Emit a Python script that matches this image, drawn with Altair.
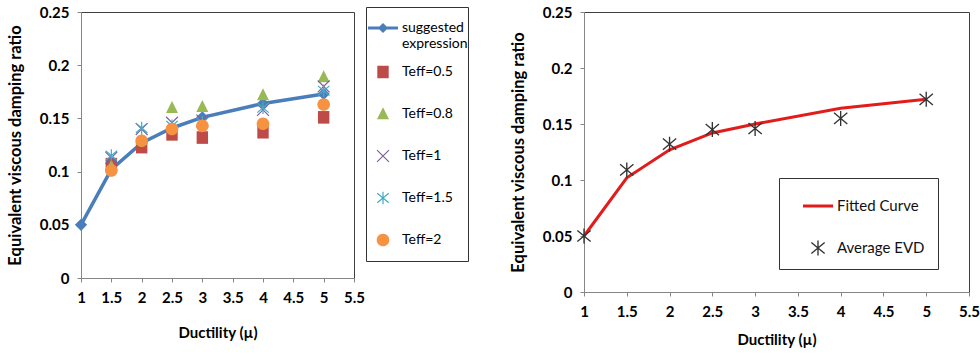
import altair as alt
import pandas as pd
import numpy as np

# ---------------- data ----------------
mu = [1, 1.5, 2, 2.5, 3, 4, 5]
suggested = [0.05, 0.102, 0.127, 0.141, 0.151, 0.164, 0.173]

mu_t = [1.5, 2, 2.5, 3, 4, 5]
teff_05 = [0.107, 0.123, 0.135, 0.132, 0.137, 0.151]
teff_08 = [0.105, 0.130, 0.160, 0.161, 0.172, 0.189]
teff_1 = [0.113, 0.140, 0.146, 0.148, 0.158, 0.180]
teff_15 = [0.115, 0.141, 0.143, 0.146, 0.160, 0.176]
teff_2 = [0.101, 0.129, 0.140, 0.143, 0.145, 0.163]

fitted = [0.05, 0.102, 0.127, 0.142, 0.150, 0.164, 0.172]
average_evd = [0.05, 0.109, 0.132, 0.145, 0.146, 0.155, 0.172]

x_ticks = [1, 1.5, 2, 2.5, 3, 3.5, 4, 4.5, 5, 5.5]
y_ticks = [0, 0.05, 0.1, 0.15, 0.2, 0.25]

left_series = ["suggested expression", "Teff=0.5", "Teff=0.8", "Teff=1", "Teff=1.5", "Teff=2"]
right_series = ["Fitted Curve", "Average EVD"]

# ---------------- symbol paths (style) ----------------
def bar(r, t, deg):
    a = np.deg2rad(deg)
    c, s = np.cos(a), np.sin(a)
    pts = [(-t, -r), (t, -r), (t, r), (-t, r)]
    rp = [(x * c - y * s, x * s + y * c) for x, y in pts]
    return "M" + "L".join(f"{x:.3f},{y:.3f}" for x, y in rp) + "Z"

line_diamond = "M-1,-0.1L1,-0.1L1,0.1L-1,0.1Z M0,-0.34L0.34,0L0,0.34L-0.34,0Z"
square = "M-0.38,-0.42L0.38,-0.42L0.38,0.42L-0.38,0.42Z"
triangle = "M0,-0.45L0.4,0.35L-0.4,0.35Z"
xmark = bar(0.56, 0.04, 45) + " " + bar(0.56, 0.04, -45)
asterisk_s = bar(0.42, 0.04, 0) + " " + bar(0.5, 0.04, 50) + " " + bar(0.5, 0.04, -50)
circle = "M-0.42,0A0.42,0.42,0,1,0,0.42,0A0.42,0.42,0,1,0,-0.42,0Z"
red_line = "M-1,-0.1L1,-0.1L1,0.1L-1,0.1Z"
asterisk_l = bar(0.5, 0.045, 0) + " " + bar(0.58, 0.045, 50) + " " + bar(0.58, 0.045, -50)

left_colors = ["#4A7EBB", "#BE4B48", "#98B954", "#7D60A0", "#46AAC5", "#F69240"]
left_shapes = [line_diamond, square, triangle, xmark, asterisk_s, circle]

FONT = "Lato"

# ---------------- tables ----------------
df_sug = pd.DataFrame({"mu": mu, "evd": suggested})
rows = []
for name, vals in zip(left_series[1:], [teff_05, teff_08, teff_1, teff_15, teff_2]):
    for m, v in zip(mu_t, vals):
        rows.append({"mu": m, "evd": v, "lseries": name})
df_teff = pd.DataFrame(rows)

df_fit = pd.DataFrame({"mu": mu, "evd": fitted})
df_avg = pd.DataFrame({"mu": mu, "evd": average_evd, "rseries": "Average EVD"})


def make_x(title_pad):
    return alt.X("mu:Q", scale=alt.Scale(domain=[1, 5.5], nice=False, zero=False),
                 axis=alt.Axis(values=x_ticks, format="~g", title="Ductility (\u00b5)",
                               labelOverlap=False, labelFlush=False,
                               titlePadding=title_pad))


Y = alt.Y("evd:Q", scale=alt.Scale(domain=[0, 0.25], nice=False),
          axis=alt.Axis(values=y_ticks, format="~g", labelOverlap=False,
                        labelFlush=False,
                        title="Equivalent viscous damping ratio"))

# ---------------- left chart ----------------
XL = make_x(20)
l_line = alt.Chart(df_sug).mark_line(color="#4A7EBB", strokeWidth=3.5).encode(x=XL, y=Y)
l_diam = alt.Chart(df_sug).mark_point(shape="diamond", filled=True, size=150,
                                      opacity=1, color="#4A7EBB").encode(x=XL, y=Y)
l_pts = alt.Chart(df_teff).mark_point(filled=True, size=900, opacity=1, strokeWidth=0).encode(
    x=XL, y=Y,
    color=alt.Color("lseries:N", sort=left_series,
                    scale=alt.Scale(domain=left_series, range=left_colors),
                    legend=alt.Legend(
                        title=None, orient="none", legendX=285, legendY=-5,
                        strokeColor="#333", padding=0, symbolSize=900,
                        clipHeight=42, rowPadding=0, labelFont=FONT, labelFontSize=14,
                        labelColor="#000", labelLimit=300, symbolOpacity=1,
                        symbolStrokeWidth=0, symbolOffset=2,
                        labelExpr="datum.label == 'suggested expression' ? ['suggested', 'expression'] : datum.label")),
    shape=alt.Shape("lseries:N", sort=left_series,
                    scale=alt.Scale(domain=left_series, range=left_shapes)),
    order=alt.Order("lseries:N"),
)
left = alt.layer(l_line, l_diam, l_pts).properties(width=273, height=266)

# ---------------- right chart ----------------
XR = make_x(13)
r_line = alt.Chart(df_fit).mark_line(color="#E21B1B", strokeWidth=3).encode(x=XR, y=Y)
r_pts = alt.Chart(df_avg).mark_point(filled=True, size=900, opacity=1, strokeWidth=0).encode(
    x=XR, y=Y,
    color=alt.Color("rseries:N", sort=right_series,
                    scale=alt.Scale(domain=right_series, range=["#E21B1B", "#333333"]),
                    legend=alt.Legend(
                        title=None, orient="none", legendX=195, legendY=166,
                        strokeColor="#333", padding=13, symbolOffset=11,
                        symbolSize=900, rowPadding=19, labelFont=FONT,
                        labelFontSize=15, labelColor="#111", labelLimit=300,
                        symbolOpacity=1, symbolStrokeWidth=0)),
    shape=alt.Shape("rseries:N", sort=right_series,
                    scale=alt.Scale(domain=right_series, range=[red_line, asterisk_l])),
)
right = alt.layer(r_line, r_pts).properties(width=385, height=280)

chart = alt.hconcat(left, right, spacing=40).resolve_scale(
    color="independent", shape="independent"
).resolve_legend(
    color="independent", shape="independent"
).properties(
    padding={"left": 6, "top": 4, "right": 0, "bottom": 0},
    background="white",
).configure_view(
    stroke="#404040", strokeWidth=1
).configure_axis(
    grid=False,
    domainColor="#868686", tickColor="#868686", tickSize=4,
    labelFont=FONT, labelFontSize=15, labelFontWeight="bold", labelColor="#000",
    titleFont=FONT, titleFontSize=15, titleFontWeight="bold", titleColor="#000",
).configure_axisX(
    labelPadding=8,
).configure_axisY(
    labelPadding=8, titlePadding=16, titleFontSize=16.5,
)

chart.save("out.html", embed_options={"renderer": "svg", "actions": False})
